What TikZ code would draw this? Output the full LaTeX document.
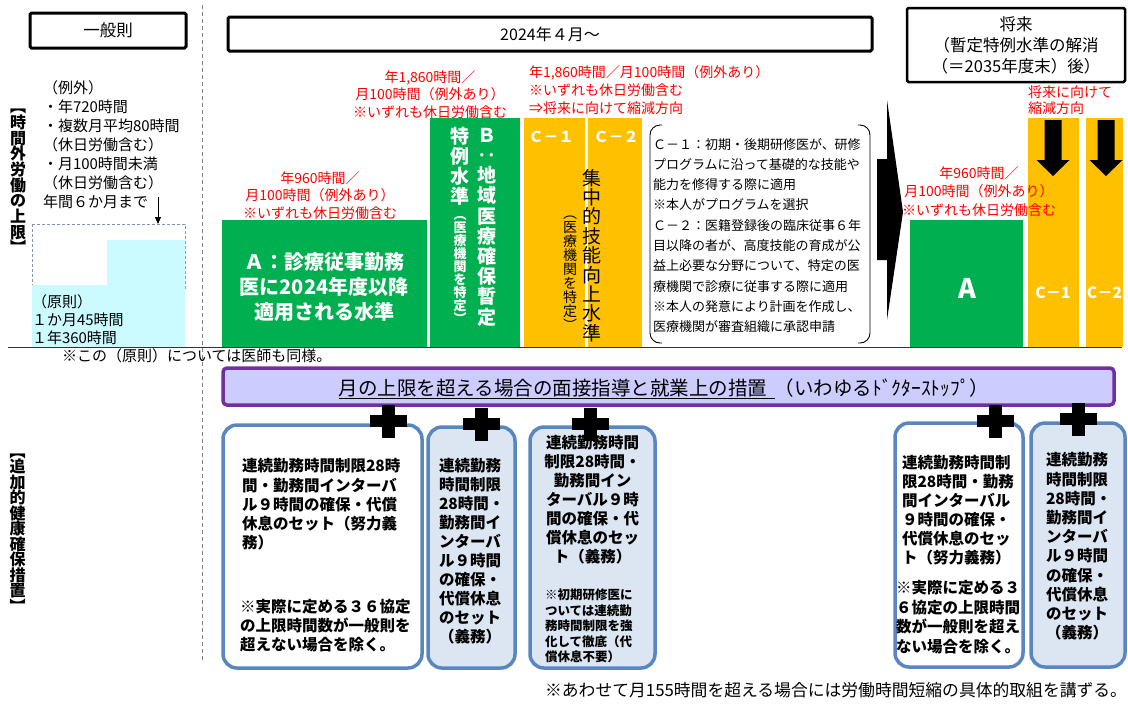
\documentclass[tikz,border=0pt]{standalone}
\usepackage{fontspec}
\setmainfont{Noto Sans CJK JP}
\usetikzlibrary{arrows.meta}
\lineskiplimit=-100pt
\newcommand\myfs[2]{\fontsize{#1}{#2}\selectfont}
\definecolor{cgreen}{HTML}{00B050}
\definecolor{corange}{HTML}{FFC000}
\definecolor{cred}{HTML}{FF0000}
\definecolor{ccyan}{HTML}{CCFBFF}
\definecolor{clav}{HTML}{CCCCFF}
\definecolor{cpurple}{HTML}{7030A0}
\definecolor{cbord}{HTML}{5A86C0}
\definecolor{cfill}{HTML}{DCE6F2}
\definecolor{cdash}{HTML}{8497B0}
\tikzset{
  hdrbox/.style={draw=black, line width=3pt, rounded corners=1.5pt, align=center},
  redlbl/.style={text=cred, align=center},
  wtxt/.style={text=white, align=center},
  hbox/.style={draw=cbord, line width=3.5pt, rounded corners=14pt},
  btxt/.style={align=left, font=\bfseries\myfs{15.5}{19}},
  plussign/.pic={\fill (-18.5,-6) rectangle (18.5,6); \fill (-6.5,-16.5) rectangle (6.5,16.5);}
}
\begin{document}
\begin{tikzpicture}[x=1pt,y=-1pt, every node/.style={inner sep=0pt,outer sep=0pt}]
\useasboundingbox (0,0) rectangle (1128,716);
\fill[white] (0,0) rectangle (1128,716);

% dashed divider
\coordinate (divT) at (202,5);
\coordinate (divB) at (202,662);
\draw[gray, dash pattern=on 4pt off 3pt, line width=0.8pt] (divT) -- (divB);

% header boxes
\node[hdrbox, minimum width=156pt, minimum height=35pt, font=\myfs{16.5}{20}] (ippan) at (108,30.5) {一般則};
\node[hdrbox, minimum width=644pt, minimum height=34pt, font=\myfs{16}{19}] (y2024) at (550,34) {2024年４月～};
\node[hdrbox, line width=2.5pt, minimum width=218pt, minimum height=74pt, font=\myfs{16.5}{21}] (future) at (1016,45) {将来\\（暫定特例水準の解消\\（＝2035年度末）後）};

% left vertical labels
\node[align=center, font=\bfseries\myfs{16}{15.7}] (lblA) at (18,181.5) {︻\\時\\間\\外\\労\\働\\の\\上\\限\\︼};
\node[align=center, font=\bfseries\myfs{16}{15.5}] (lblB) at (17.5,533) {︻\\追\\加\\的\\健\\康\\確\\保\\措\\置\\︼};

% general rule block
\node[anchor=west, align=left, font=\myfs{15}{19}] (exc) at (43,145) {（例外）\\・年720時間\\・複数月平均80時間\\（休日労働含む）\\・月100時間未満\\（休日労働含む）\\年間６か月まで};
\draw[cdash, dash pattern=on 3pt off 2pt, line width=0.7pt] (32,224) rectangle (185,290);
\fill[ccyan] (32,285) -- (107,285) -- (107,240) -- (185,240) -- (185,347) -- (32,347) -- cycle;
\coordinate (arrS) at (158,197);
\coordinate (arrE) at (158,224);
\draw[line width=0.8pt, -{Triangle[length=7pt,width=6pt]}] (arrS) -- (arrE);
\node[anchor=west, align=left, font=\myfs{15}{18}] (gensoku) at (32,320) {（原則）\\１か月45時間\\１年360時間};
\node[anchor=west, font=\myfs{15}{18}] (note1) at (62,356) {※この（原則）については医師も同様。};

% A level
\fill[cgreen] (222,220) rectangle (427,347);
\node[wtxt, font=\bfseries\myfs{20}{25}] (atext) at (324,287) {Ａ：診療従事勤務\\医に2024年度以降\\適用される水準};
\node[redlbl, font=\myfs{14}{17.5}] (alim) at (320,195.5) {年960時間／\\月100時間（例外あり）\\※いずれも休日労働含む};

% B level
\fill[cgreen] (430,118) rectangle (520,347);
\node[wtxt, font=\bfseries\myfs{19}{20.2}] (bcol1) at (487,227) {Ｂ\\‥\\地\\域\\医\\療\\確\\保\\暫\\定};
\node[wtxt, font=\bfseries\myfs{19}{20}] (bcol2) at (460,166) {特\\例\\水\\準};
\node[wtxt, font=\bfseries\myfs{13}{13}] (bcol3) at (460,270) {︵\\医\\療\\機\\関\\を\\特\\定\\︶};
\node[redlbl, font=\myfs{14}{17.5}] (blim) at (430,94.5) {年1,860時間／\\月100時間（例外あり）\\※いずれも休日労働含む};

% C levels
\fill[corange] (524,118) rectangle (585,347);
\fill[corange] (588,118) rectangle (642,347);
\node[wtxt, font=\bfseries\myfs{15}{18}] (c1lbl) at (551,137) {Ｃ－１};
\node[wtxt, font=\bfseries\myfs{15}{18}] (c2lbl) at (616,137) {Ｃ－２};
\node[align=center, font=\myfs{19}{19.4}] (ccol1) at (592,255.5) {集\\中\\的\\技\\能\\向\\上\\水\\準};
\node[align=center, font=\myfs{14}{14}] (ccol2) at (570,273) {︵\\医\\療\\機\\関\\を\\特\\定\\︶};
\node[anchor=west, align=left, text=cred, font=\myfs{14}{18}] (clim) at (529,90) {年1,860時間／月100時間（例外あり）\\※いずれも休日労働含む\\⇒将来に向けて縮減方向};

% bracketed explanation
\draw[line width=0.9pt, rounded corners=10pt] (662,125) -- (650,125) -- (650,343) -- (662,343);
\draw[line width=0.9pt, rounded corners=10pt] (858,125) -- (870,125) -- (870,343) -- (858,343);
\node[anchor=west, align=left, font=\myfs{13}{20.3}] (cexpl) at (653,235.5) {Ｃ－１：初期・後期研修医が、研修\\プログラムに沿って基礎的な技能や\\能力を修得する際に適用\\※本人がプログラムを選択\\Ｃ－２：医籍登録後の臨床従事６年\\目以降の者が、高度技能の育成が公\\益上必要な分野について、特定の医\\療機関で診療に従事する際に適用\\※本人の発意により計画を作成し、\\医療機関が審査組織に承認申請};

% big arrow
\fill (877,159) -- (887,159) -- (887,100) -- (903,212) -- (887,320) -- (887,260) -- (877,260) -- cycle;

% future levels
\fill[cgreen] (910,220) rectangle (1023,347);
\fill[corange] (1028,118) rectangle (1079,347);
\fill[corange] (1086,118) rectangle (1123,347);
\node[wtxt, font=\bfseries\myfs{27}{30}] (fA) at (967,288) {A};
\node[wtxt, font=\bfseries\myfs{15.5}{20}] (fC1) at (1053,293) {C－1};
\node[wtxt, font=\bfseries\myfs{15.5}{20}] (fC2) at (1104.5,293) {C－2};
\fill (1044.5,120) -- (1061.5,120) -- (1061.5,160) -- (1069.5,160) -- (1053,176) -- (1036.5,160) -- (1044.5,160) -- cycle;
\fill (1097.5,120) -- (1114.5,120) -- (1114.5,160) -- (1122.5,160) -- (1106,176) -- (1089.5,160) -- (1097.5,160) -- cycle;
\node[anchor=west, align=left, text=cred, font=\myfs{14}{16}] (fred) at (1028,100) {将来に向けて\\縮減方向};
\node[redlbl, font=\myfs{14}{18.5}] (falim) at (979,191.5) {年960時間／\\月100時間（例外あり）\\※いずれも休日労働含む};

% baseline
\coordinate (baseL) at (8,347);
\coordinate (baseR) at (1122,347);
\draw[line width=0.9pt, black!80] (baseL) -- (baseR);

% banner
\node[draw=cpurple, fill=clav, line width=3.5pt, rounded corners=4pt, minimum width=891pt, minimum height=37pt] (banner) at (668.5,386.5) {};
\node[font=\myfs{19.5}{22}] (bannertxt) at (664,389) {\underline{月の上限を超える場合の面接指導と就業上の措置\hspace{0.4em}}（いわゆるﾄﾞｸﾀｰｽﾄｯﾌﾟ）};

% lower boxes
\draw[hbox, fill=white] (223,425) rectangle (422,668);
\draw[hbox, fill=cfill] (428,427) rectangle (515,668);
\draw[hbox, fill=cfill] (530,427) rectangle (655,668);
\draw[hbox, fill=white] (895,423) rectangle (1023,667);
\draw[hbox, fill=cfill] (1031,423) rectangle (1125,667);

\node[btxt, anchor=west, font=\bfseries\myfs{15.5}{19.25}] (b1a) at (242,504.5) {連続勤務時間制限28時\\間・勤務間インターバ\\ル９時間の確保・代償\\休息のセット（努力義\\務）};
\node[btxt, anchor=west] (b1b) at (240,626) {※実際に定める３６協定\\の上限時間数が一般則を\\超えない場合を除く。};
\node[btxt, anchor=west] (b2) at (439,551.5) {連続勤務\\時間制限\\28時間・\\勤務間イ\\ンターバ\\ル９時間\\の確保・\\代償休息\\のセット\\（義務）};
\node[btxt, align=center] (b3a) at (592.5,500) {連続勤務時間\\制限28時間・\\勤務間イン\\ターバル９時\\間の確保・代\\償休息のセッ\\ト（義務）};
\node[btxt, anchor=west, font=\bfseries\myfs{12.5}{15.5}] (b3b) at (545,626) {※初期研修医に\\ついては連続勤\\務時間制限を強\\化して徹底（代\\償休息不要）};
\node[btxt, anchor=west] (b4a) at (902,510.5) {連続勤務時間制\\限28時間・勤務\\間インターバル\\９時間の確保・\\代償休息のセッ\\ト（努力義務）};
\node[btxt, anchor=west, font=\bfseries\myfs{15.5}{19.5}] (b4b) at (896,617) {※実際に定める３\\６協定の上限時間\\数が一般則を超え\\ない場合を除く。};
\node[btxt, anchor=west, font=\bfseries\myfs{15.5}{19.2}] (b5) at (1046,546.5) {連続勤務\\時間制限\\28時間・\\勤務間イ\\ンターバ\\ル９時間\\の確保・\\代償休息\\のセット\\（義務）};

% plus signs
\pic at (388,421) {plussign};
\pic at (481,424) {plussign};
\pic at (590,424) {plussign};
\pic at (995,421) {plussign};
\pic at (1078,419) {plussign};

% footnote
\node[anchor=east, font=\myfs{16.8}{20}] (note2) at (1127,690) {※あわせて月155時間を超える場合には労働時間短縮の具体的取組を講ずる。};
\end{tikzpicture}
\end{document}
